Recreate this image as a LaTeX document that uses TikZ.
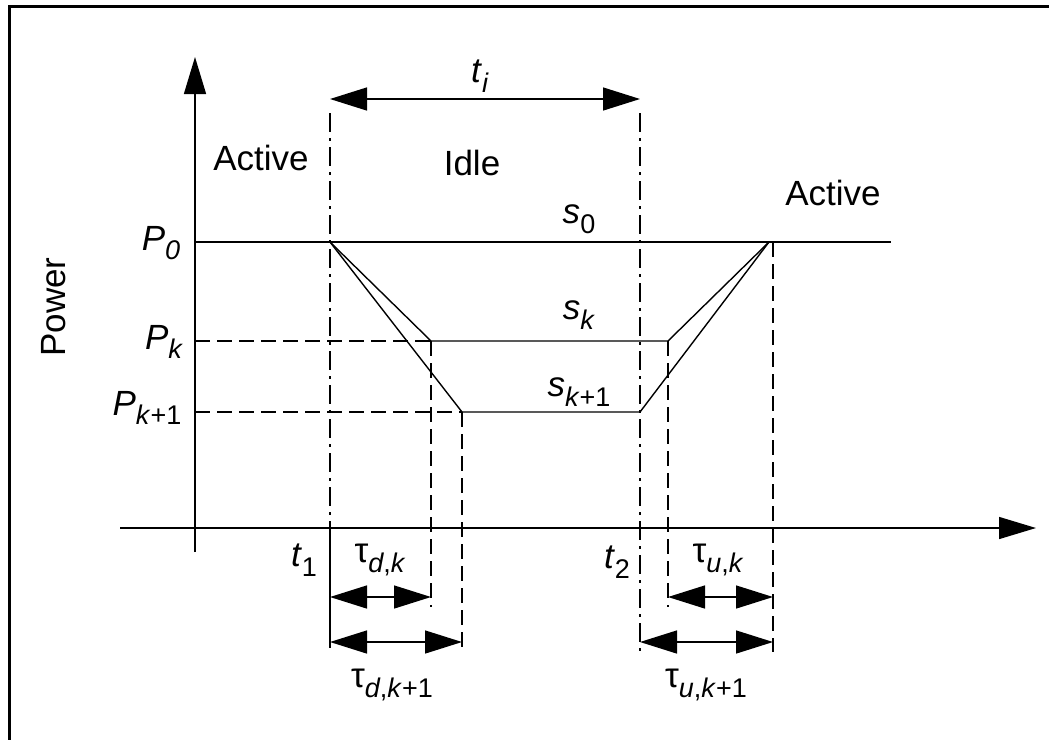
\documentclass[tikz,border=0pt]{standalone}
\usepackage{fontspec}
\setmainfont{Liberation Sans}
\usetikzlibrary{arrows.meta}
\newcommand{\sbs}[1]{\raisebox{-0.28em}{\fontsize{27}{27}\selectfont #1}}
\newcommand{\itx}[1]{\textit{#1}}
\tikzset{
  lw/.style={line width=1.4pt},
  axisline/.style={lw, -{Triangle[length=37pt,width=22pt]}},
  dimarrow/.style={lw, {Triangle[length=37pt,width=23pt]}-{Triangle[length=37pt,width=23pt]}},
  dashdotline/.style={lw, dash pattern=on 19pt off 6pt on 3pt off 6pt},
  dashline/.style={lw, dash pattern=on 15pt off 7pt},
  lbl/.style={inner sep=0pt, font=\fontsize{35}{38}\selectfont},
  frameline/.style={line width=3pt}
}
\begin{document}
\begin{tikzpicture}[x=1pt,y=-1pt]
\useasboundingbox (0,0) rectangle (1049,740);
% frame (top and left edges)
\coordinate (fr1) at (1049,6.5);
\coordinate (fr2) at (9.5,6.5);
\coordinate (fr3) at (9.5,740);
\draw[frameline] (fr1) -- (fr2) -- (fr3);
% axes
\coordinate (yb) at (195,552);
\coordinate (yt) at (195,57);
\coordinate (xl) at (120,528);
\coordinate (xr) at (1036,528);
\draw[axisline] (yb) -- (yt);
\draw[axisline] (xl) -- (xr);
% key points
\coordinate (p0l) at (195,242);
\coordinate (p0r) at (891,242);
\coordinate (A) at (330,242);
\coordinate (B) at (431,341);
\coordinate (C) at (462,412);
\coordinate (D) at (640,412);
\coordinate (E) at (668,341);
\coordinate (F) at (769,242);
\coordinate (pkl) at (195,341);
\coordinate (pk1l) at (195,412);
% power curves
\draw[lw] (p0l) -- (p0r);
\draw[lw] (A) -- (B) -- (E) -- (F);
\draw[lw] (A) -- (C) -- (D) -- (F);
% dashed horizontals
\draw[dashline] (pkl) -- (B);
\draw[dashline] (pk1l) -- (C);
% t1 and t2 lines
\coordinate (t1top) at (330,113);
\coordinate (t1ax) at (330,528);
\coordinate (t1bot) at (330,648);
\coordinate (t2top) at (640,113);
\coordinate (t2bot) at (640,652);
\draw[dashdotline] (t1top) -- (t1ax);
\draw[lw] (t1ax) -- (t1bot);
\draw[dashdotline] (t2top) -- (t2bot);
% dashed verticals
\coordinate (Bb) at (431,607);
\coordinate (Cb) at (462,652);
\coordinate (Eb) at (668,607);
\coordinate (Ft) at (773,242);
\coordinate (Fb) at (773,652);
\draw[dashline] (B) -- (Bb);
\draw[dashline] (C) -- (Cb);
\draw[dashline] (E) -- (Eb);
\draw[dashline] (Ft) -- (Fb);
% dimension arrows
\coordinate (ti1) at (330,99);
\coordinate (ti2) at (640,99);
\draw[dimarrow] (ti1) -- (ti2);
\coordinate (dk1) at (330,597);
\coordinate (dk2) at (431,597);
\coordinate (dkk1) at (330,642);
\coordinate (dkk2) at (462,642);
\coordinate (uk1) at (668,597);
\coordinate (uk2) at (773,597);
\coordinate (ukk1) at (640,642);
\coordinate (ukk2) at (773,642);
\draw[dimarrow] (dk1) -- (dk2);
\draw[dimarrow] (dkk1) -- (dkk2);
\draw[dimarrow] (uk1) -- (uk2);
\draw[dimarrow] (ukk1) -- (ukk2);
% labels
\node[lbl] (lti) at (480,76) {\itx{t}\sbs{\itx{i}}};
\node[lbl] (lact1) at (261,158) {Active};
\node[lbl] (lidle) at (472,163) {Idle};
\node[lbl] (lact2) at (833,193) {Active};
\node[lbl] (ls0) at (579,219) {\itx{s}\sbs{0}};
\node[lbl] (lsk) at (579,315) {\itx{s}\sbs{\itx{k}}};
\node[lbl] (lsk1) at (579,392) {\itx{s}\sbs{\itx{k}+1}};
\node[lbl] (lp0) at (161,243) {\itx{P}\sbs{\itx{0}}};
\node[lbl] (lpk) at (164,342) {\itx{P}\sbs{\itx{k}}};
\node[lbl] (lpk1) at (147,408) {\itx{P}\sbs{\itx{k}+1}};
\node[lbl, rotate=90] (lpow) at (54,307) {Power};
\node[lbl] (lt1) at (304,560) {\itx{t}\sbs{1}};
\node[lbl] (lt2) at (617,562) {\itx{t}\sbs{2}};
\node[lbl] (ldk) at (380,560) {τ\sbs{\itx{d},\itx{k}}};
\node[lbl] (luk) at (718,560) {τ\sbs{\itx{u},\itx{k}}};
\node[lbl] (ldk1) at (392,685) {τ\sbs{\itx{d},\itx{k}+1}};
\node[lbl] (luk1) at (706,685) {τ\sbs{\itx{u},\itx{k}+1}};
\end{tikzpicture}
\end{document}
